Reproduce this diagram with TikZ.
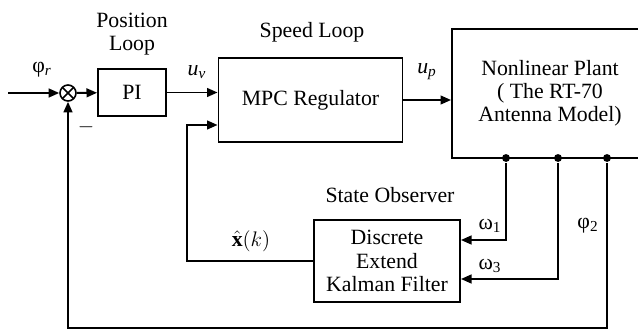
\documentclass[tikz,border=0pt]{standalone}
\usepackage{fontspec}
\setmainfont{Liberation Serif}
\usepackage{amsmath}
\usetikzlibrary{arrows.meta}

\begin{document}
\begin{tikzpicture}[
        x=0.02cm, y=-0.02cm,
        line width=1.1pt,
        every node/.style={
            font=\fontsize{12.4}{13.2}\selectfont,
            align=center
        },
        block/.style={
            draw,
            inner sep=0pt
        },
        sumnode/.style={
            draw,
            circle,
            minimum size=0.32cm,
            inner sep=0pt,
            line width=0.9pt,
            path picture={
                \draw[line width=0.9pt] (path picture bounding box.north west) -- (path picture bounding box.south east);
                \draw[line width=0.9pt] (path picture bounding box.north east) -- (path picture bounding box.south west);
            }
        },
        tap/.style={circle, fill, inner sep=0pt, minimum size=4.5pt},
        arr/.style={-{Triangle[length=6pt,width=5pt]}}
    ]
    \useasboundingbox (0,0) rectangle (638,331);
    \clip (0,0) rectangle (638,331);

    % blocks
    \coordinate (in) at (8,93);
    \node[sumnode] (sum) at (68,93) {};
    \node[block, minimum width=1.36cm, minimum height=0.94cm] (pi) at (132,92.5) {PI};
    \node[block, minimum width=3.68cm, minimum height=1.68cm] (mpc) at (310.5,100) {MPC Regulator};
    \node[block, minimum width=3.92cm, minimum height=2.58cm] (plant) at (550,93.5) {Nonlinear Plant\\( The RT-70\\Antenna Model)};
    \node[block, minimum width=2.92cm, minimum height=1.64cm] (kf) at (387,261) {Discrete\\Extend\\Kalman Filter};

    \node[tap] (w1) at (506,158) {};
    \node[tap] (w3) at (558,158) {};
    \node[tap] (p2) at (607,158) {};

    % connectors
    \draw[arr] (in) -- (sum);
    \draw[arr] (sum) -- (pi);
    \draw[arr] (pi) -- (pi -| mpc.west);
    \draw[arr] (mpc) -- (mpc -| plant.west);
    \draw[arr] (w1) |- ([yshift=0.42cm]kf.east);
    \draw[arr] (w3) |- ([yshift=-0.36cm]kf.east);
    \draw[arr] (kf.west) -- ++(-126,0) |- ([yshift=-0.5cm]mpc.west);
    \draw[arr] (p2) -- ++(0,170) -| (sum);

    % labels
    \node (phir) at (42,70) {φ\textsubscript{\itshape r}};
    \node (minus) at (86,127) {$-$};
    \node (posloop) at (132,34) {Position\\Loop};
    \node (uv) at (197,72) {\itshape u\textsubscript{v}};
    \node (spdloop) at (312,32) {Speed Loop};
    \node (up) at (427,72) {\itshape u\textsubscript{p}};
    \node (obs) at (390,195) {State Observer};
    \node (om1) at (490,226) {ω\textsubscript{1}};
    \node (om3) at (490,266) {ω\textsubscript{3}};
    \node (phi2) at (588,226) {φ\textsubscript{2}};
    \node (xhat) at (251,241) {$\hat{\mathbf{x}}(k)$};
\end{tikzpicture}
\end{document}
